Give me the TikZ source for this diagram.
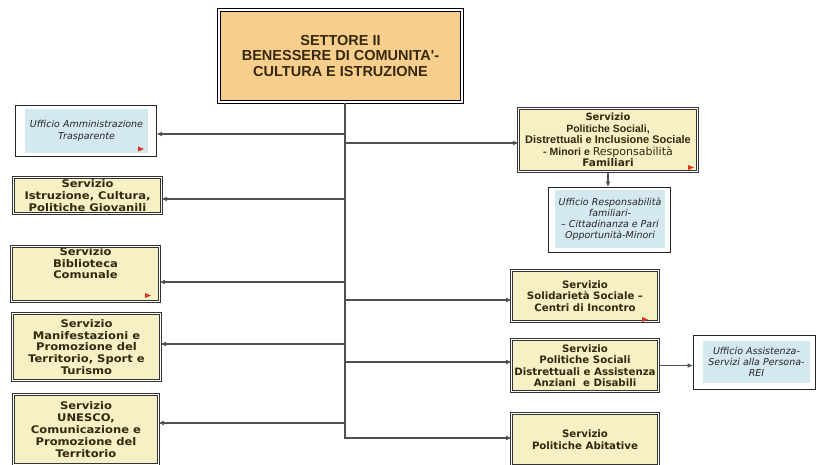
\documentclass[tikz,border=0pt]{standalone}
\usepackage{fontspec}
\setmainfont{DejaVu Sans}
\newfontfamily\libsans{Liberation Sans}
\newfontfamily\servwide{DejaVu Sans}[FakeStretch=1.1]
\usetikzlibrary{arrows.meta,shadows}
\definecolor{topfill}{RGB}{248,206,140}
\definecolor{yelfill}{RGB}{245,241,196}
\definecolor{bluefill}{RGB}{212,232,240}
\definecolor{txtbrown}{RGB}{52,40,14}
\definecolor{linegrey}{RGB}{80,80,80}
\definecolor{markred}{RGB}{225,50,30}
\begin{document}
\begin{tikzpicture}[x=1pt,y=-1pt,
  topbox/.style={draw=black, line width=1.3pt, double=white, double distance=1.1pt,
    fill=topfill, align=center, text=txtbrown, inner sep=1pt,
    drop shadow={shadow xshift=1.2pt, shadow yshift=-1.5pt, fill=black, opacity=1},
    font=\libsans\bfseries\fontsize{14.5}{15.5}\selectfont},
  servL/.style={draw=black!80, line width=0.7pt, double=white, double distance=1.3pt,
    fill=yelfill, align=center, text=txtbrown, inner sep=1pt,
    font=\servwide\bfseries\fontsize{10.5}{11.8}\selectfont},
  servR/.style={servL, font=\bfseries\fontsize{10.2}{11.5}\selectfont},
  uffout/.style={draw=black!85, line width=0.8pt, fill=white, inner sep=0pt},
  uffin/.style={fill=bluefill, align=center, text=black!85, inner sep=1pt,
    font=\itshape\fontsize{9.5}{12}\selectfont},
  conn/.style={draw=linegrey, line width=1.1pt},
  arr/.style={conn, -{Triangle[length=5pt,width=4pt]}},
  redmark/.style={fill=markred}
]
\useasboundingbox (0,0) rectangle (816,464);

% top box
\node[topbox, minimum width=243, minimum height=92] (top) at (340.5,56)
  {SETTORE II\\BENESSERE DI COMUNITA'-\\CULTURA E ISTRUZIONE};

% left column
\node[uffout, minimum width=141, minimum height=51] (l1) at (86,131) {};
\node[uffin, minimum width=123, minimum height=44] (l1i) at (86.5,131)
  {Ufficio Amministrazione\\Trasparente};
\node[servL, minimum width=148, minimum height=36] (l2) at (87.5,195.5)
  {Servizio\\Istruzione, Cultura,\\Politiche Giovanili};
\node[servL, minimum width=148, minimum height=53] (l3) at (85.5,274)
  {Servizio\\Biblioteca\\Comunale\\[10pt]~};
\node[servL, minimum width=148, minimum height=67] (l4) at (86.5,347)
  {Servizio\\Manifestazioni e\\Promozione del\\Territorio, Sport e\\Turismo};
\node[servL, minimum width=145, minimum height=70] (l5) at (86,429.5)
  {Servizio\\UNESCO,\\Comunicazione e\\Promozione del\\Territorio};

% right column
\node[servL, minimum width=179, minimum height=63, font=\fontsize{10.5}{11.5}\selectfont] (r1) at (608,140)
  {{\bfseries\fontsize{10}{11.5}\selectfont Servizio}\\
   {\libsans\bfseries Politiche Sociali,}\\
   {\libsans\bfseries\fontsize{11}{11.5}\selectfont Distrettuali e Inclusione Sociale}\\
   {\libsans\bfseries - Minori e }{\fontsize{11}{11.5}\selectfont Responsabilità}\\
   {\bfseries Familiari}};
\node[uffout, minimum width=122, minimum height=65] (r2) at (609,219.5) {};
\node[uffin, minimum width=110, minimum height=58, font=\itshape\fontsize{9.5}{11}\selectfont] (r2i) at (610,219)
  {Ufficio Responsabilità\\familiari-\\– Cittadinanza e Pari\\Opportunità-Minori};
\node[servR, minimum width=147, minimum height=51] (r3) at (585,296)
  {Servizio\\Solidarietà Sociale –\\Centri di Incontro};
\node[servR, minimum width=147, minimum height=52] (r4) at (585,365.5)
  {Servizio\\Politiche Sociali\\Distrettuali e Assistenza\\Anziani\ \ e Disabili};
\node[servR, minimum width=147, minimum height=52] (r5) at (585,439.5)
  {Servizio\\Politiche Abitative};
\node[uffout, minimum width=122, minimum height=54] (r6) at (754,362) {};
\node[uffin, minimum width=107, minimum height=42, font=\itshape\fontsize{9.5}{11}\selectfont] (r6i) at (756.5,362)
  {Ufficio Assistenza-\\Servizi alla Persona-\\REI};

% small red markers
\fill[redmark] (138,146.5) -- (144,149) -- (138,151.5) -- cycle;
\fill[redmark] (145,293) -- (151,295.5) -- (145,298) -- cycle;
\fill[redmark] (688,165) -- (694,167.5) -- (688,170) -- cycle;
\fill[redmark] (642,317) -- (648,319.5) -- (642,322) -- cycle;

% trunk
\coordinate (tr) at (345,438);
\draw[arr] (top.south -| tr) -- (tr) -- (tr -| r5.west);

% branch points
\coordinate (bl1) at (345,134);
\coordinate (bl2) at (345,199);
\coordinate (bl3) at (345,282);
\coordinate (bl4) at (345,344);
\coordinate (bl5) at (345,423);
\coordinate (br1) at (345,143);
\coordinate (br3) at (345,300);
\coordinate (br4) at (345,362);

\draw[arr] (bl1) -- (bl1 -| l1.east);
\draw[arr] (bl2) -- (bl2 -| l2.east);
\draw[arr] (bl3) -- (bl3 -| l3.east);
\draw[arr] (bl4) -- (bl4 -| l4.east);
\draw[arr] (bl5) -- (bl5 -| l5.east);
\draw[arr] (br1) -- (br1 -| r1.west);
\draw[arr] (br3) -- (br3 -| r3.west);
\draw[arr] (br4) -- (br4 -| r4.west);
\draw[arr] (r1.south) -- (r1.south |- r2.north);
\draw[arr] (r4.east) -- (r4.east -| r6.west);
\end{tikzpicture}
\end{document}
